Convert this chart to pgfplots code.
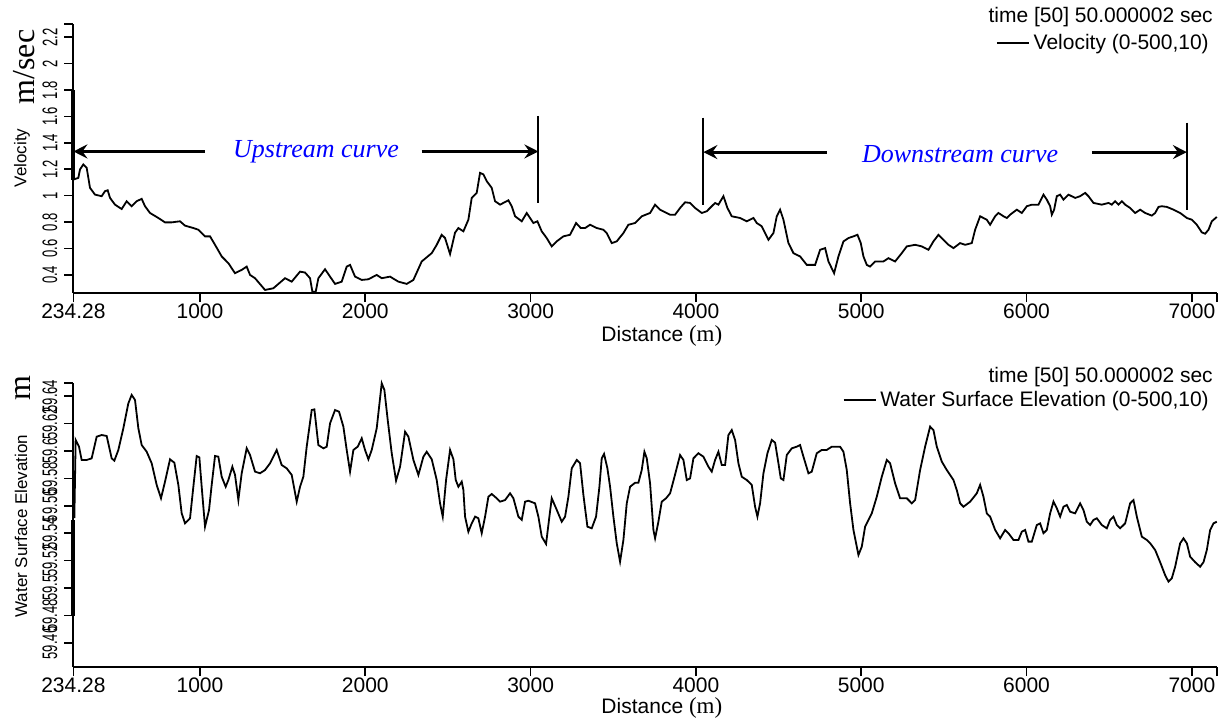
\documentclass[border=0pt]{standalone}
\usepackage{pgfplots}
\pgfplotsset{compat=1.18}
\usepackage{fontspec}
\setmainfont{Liberation Sans}
\newfontfamily\tnr{Liberation Serif}
\usetikzlibrary{arrows.meta}

\pgfplotsset{
  hecras/.style={
    scale only axis, width=571.7pt, xmin=234.28, xmax=7151,
    axis x line*=bottom, axis y line*=left,
    axis line style={-, line width=1pt},
    tick align=outside, major tick length=4.5pt,
    every tick/.style={black, line width=0.8pt},
    xtick={234.28,1000,2000,3000,4000,5000,6000,7000},
    xticklabels={234.28,1000,2000,3000,4000,5000,6000,7000},
    extra x ticks={7151}, extra x tick labels={},
    xticklabel style={font=\fontsize{10.5}{12}\selectfont, yshift=2.5pt},
    yticklabel style={rotate=90, xscale=0.62, anchor=south, font=\fontsize{10.5}{12}\selectfont},
    /pgf/number format/assume math mode=true,
    clip=false,
    legend style={draw=none, fill=none, font=\fontsize{10.5}{12}\selectfont, anchor=east, inner sep=0pt},
    legend image code/.code={\draw[#1, line width=0.7pt] (0pt,0pt) -- (16pt,0pt);},
  },
  curve/.style={black, line width=0.9pt, no marks},
}
\tikzset{marrow/.style={line width=1.6pt, -{Stealth[length=7pt, width=7pt, inset=2.5pt]}}}

\begin{document}
\begin{tikzpicture}
\path[use as bounding box] (0,0) rectangle (613pt,360pt);

% ---- velocity ----
\begin{axis}[hecras, at={(36.7pt,213.5pt)}, anchor=south west, height=134.5pt,
  ymin=0.263, ymax=2.3,
  ytick={0.4,0.6,0.8,1,1.2,1.4,1.6,1.8,2,2.2},
  yticklabels={0.4,0.6,0.8,1,1.2,1.4,1.6,1.8,2,2.2},
  extra y ticks={2.3}, extra y tick labels={},
  legend style={at={(axis description cs:0.9968,0.929)}},
]
\addplot[curve] coordinates {
(234.28,1.122) (264.2,1.135) (274.3,1.199) (294.4,1.237) (314.6,1.211) (334.8,1.059) (365,1.008) (405.3,0.996)
(425.5,1.034) (441.6,1.041) (455.8,0.983) (486,0.932) (526.3,0.899) (556.6,0.958) (586.8,0.920) (617.1,0.958)
(647.3,0.976) (667.5,0.920) (697.8,0.869) (748.2,0.831) (788.5,0.798) (828.8,0.798) (879.3,0.806) (909.5,0.773)
(959.9,0.755) (990.2,0.742) (1030.5,0.692) (1060.8,0.692) (1091,0.628) (1131.3,0.540) (1171.7,0.489) (1212,0.413)
(1252.4,0.438) (1282.6,0.463) (1302.8,0.400) (1333,0.375) (1393.5,0.286) (1444,0.299) (1514.5,0.375) (1554.9,0.349)
(1605.3,0.425) (1635.5,0.418) (1665.8,0.375) (1679.9,0.273) (1700,0.273) (1716.2,0.375) (1756.5,0.443) (1786.8,0.387)
(1817,0.332) (1857.4,0.349) (1887.6,0.463) (1907.8,0.476) (1938,0.387) (1978.4,0.362) (2018.7,0.367) (2069.1,0.400)
(2099.4,0.375) (2149.8,0.387) (2200.2,0.349) (2250.6,0.332) (2290.9,0.362) (2341.4,0.502) (2401.9,0.565) (2432.1,0.628)
(2462.4,0.704) (2482.5,0.679) (2512.8,0.558) (2543,0.72) (2563.1,0.755) (2593.4,0.730) (2623.6,0.818) (2643.8,0.983)
(2674,1.021) (2694.2,1.173) (2714.4,1.161) (2734.5,1.110) (2764.8,1.059) (2785,0.958) (2815.2,0.932) (2865.6,0.965)
(2885.8,0.920) (2906,0.844) (2946.3,0.806) (2976.5,0.869) (2996.7,0.831) (3016.9,0.793) (3041.1,0.806) (3067.3,0.730)
(3097.5,0.679) (3127.8,0.616) (3158,0.654) (3198.4,0.692) (3238.7,0.704) (3275,0.793) (3303.2,0.755) (3329.5,0.755)
(3359.7,0.780) (3400,0.755) (3440.4,0.742) (3460.5,0.717) (3490.8,0.641) (3521,0.654) (3561.4,0.717) (3591.6,0.780)
(3632,0.793) (3672.3,0.844) (3722.7,0.869) (3753,0.932) (3783.2,0.894) (3843.7,0.856) (3874,0.856) (3904.2,0.907)
(3934.5,0.950) (3964.7,0.945) (3995,0.907) (4035.3,0.869) (4065.6,0.882) (4095.8,0.920) (4116,0.945) (4136.1,0.932)
(4166.4,0.996) (4190.6,0.907) (4216.8,0.844) (4267.2,0.831) (4307.6,0.806) (4347.9,0.831) (4368,0.793) (4398.3,0.768)
(4438.6,0.666) (4468.9,0.717) (4489,0.844) (4509.2,0.894) (4529.4,0.818) (4559.6,0.641) (4589.9,0.565) (4630.2,0.540)
(4670.6,0.476) (4721,0.476) (4751.2,0.590) (4781.5,0.603) (4801.7,0.502) (4835.9,0.413) (4862.1,0.540) (4892.4,0.654)
(4922.6,0.679) (4952.9,0.692) (4977.1,0.704) (4997.2,0.641) (5013.4,0.540) (5033.5,0.476) (5053.7,0.463) (5084,0.502)
(5134.4,0.502) (5164.6,0.527) (5205,0.502) (5245.3,0.565) (5275.5,0.616) (5326,0.628) (5366.3,0.616) (5406.6,0.590)
(5436.9,0.654) (5467.1,0.704) (5497.4,0.666) (5527.6,0.628) (5557.9,0.603) (5598.2,0.641) (5628.5,0.628) (5668.8,0.641)
(5689,0.742) (5719.2,0.844) (5759.5,0.818) (5779.7,0.780) (5810,0.844) (5830.1,0.869) (5860.4,0.844) (5880.6,0.831)
(5900.7,0.856) (5941,0.894) (5971.3,0.869) (6001.6,0.920) (6031.8,0.932) (6072.1,0.932) (6102.4,1.008) (6122.6,0.970)
(6142.7,0.920) (6152.8,0.856) (6166.9,0.894) (6183,0.996) (6203.2,1.008) (6223.4,0.970) (6253.6,1.008) (6294,0.983)
(6324.2,0.996) (6354.5,1.021) (6374.6,0.996) (6404.9,0.945) (6455.3,0.932) (6495.6,0.945) (6515.8,0.932) (6536,0.958)
(6556.1,0.932) (6576.3,0.958) (6596.5,0.932) (6626.7,0.907) (6657,0.869) (6687.2,0.894) (6717.5,0.869) (6757.8,0.849)
(6778,0.869) (6798.2,0.915) (6818.3,0.920) (6848.6,0.915) (6888.9,0.894) (6929.2,0.869) (6969.6,0.831) (6999.8,0.818)
(7030,0.780) (7060.3,0.722) (7080.5,0.712) (7100.7,0.742) (7120.8,0.806) (7151,0.839)
};
\addlegendentry{{Velocity (0-500,10)}}
% reach markers
\draw[line width=2pt] (axis cs:234.28,1.12) -- (axis cs:234.28,1.80);
\draw[marrow] (axis cs:1030,1.335) -- (axis cs:234.28,1.335);
\node[blue, font=\tnr\itshape\fontsize{13}{15}\selectfont] at (axis cs:1702,1.335) {Upstream curve};
\draw[marrow] (axis cs:2341,1.335) -- (axis cs:3047,1.335);
\draw[line width=1pt] (axis cs:3047,1.604) -- (axis cs:3047,0.945);
\draw[line width=1pt] (axis cs:4045,1.592) -- (axis cs:4045,0.932);
\draw[marrow] (axis cs:4792,1.33) -- (axis cs:4045,1.33);
\node[blue, font=\tnr\itshape\fontsize{13}{15}\selectfont] at (axis cs:5598,1.315) {Downstream curve};
\draw[marrow] (axis cs:6395,1.33) -- (axis cs:6970,1.33);
\draw[line width=1pt] (axis cs:6970,1.554) -- (axis cs:6970,0.894);
% labels
\node[anchor=east, inner sep=0pt, font=\fontsize{10.5}{12}\selectfont] at (axis description cs:0.9968,1.026) {time [50] 50.000002 sec};
\node[anchor=base west, inner sep=0pt, font=\fontsize{10.5}{12}\selectfont] at (axis description cs:0.4615,-0.182) {Distance {\tnr\fontsize{11.5}{13}\selectfont (m)}};
\node[rotate=90, font=\fontsize{8.5}{10}\selectfont] at (axis description cs:-0.045,0.502) {Velocity};
\node[rotate=90, font=\tnr\fontsize{16}{18}\selectfont] at (axis description cs:-0.043,0.840) {m/sec};
\end{axis}

% ---- water surface elevation ----
\begin{axis}[hecras, at={(36.7pt,26.5pt)}, anchor=south west, height=142pt,
  ymin=59.4425, ymax=59.6495,
  ytick={59.46,59.48,59.5,59.52,59.54,59.56,59.58,59.6,59.62,59.64},
  yticklabels={59.46,59.48,59.5,59.52,59.54,59.56,59.58,59.6,59.62,59.64},
  extra y ticks={59.6495}, extra y tick labels={},
  legend style={at={(axis description cs:0.9968,0.940)}},
]
\addplot[curve] coordinates {
(240,59.551) (248,59.608) (268.2,59.6031) (284.3,59.5934) (314.6,59.5934) (344.8,59.5946) (375.1,59.6104) (405.3,59.6116)
(435.6,59.6109) (465.8,59.5946) (482,59.5929) (506.2,59.6007) (536.4,59.6165) (566.7,59.6347) (586.8,59.6408) (607,59.6371)
(627.2,59.6165) (647.3,59.6043) (677.6,59.5994) (707.8,59.591) (738.1,59.5752) (764.3,59.5655) (788.5,59.5776) (818.8,59.5939)
(845,59.5914) (869.2,59.5752) (889.3,59.5545) (909.5,59.5472) (939.8,59.5509) (959.9,59.5739) (980.1,59.5963) (996.2,59.5953)
(1010.3,59.5739) (1030.5,59.5448) (1054.7,59.5569) (1070.8,59.5752) (1091,59.5963) (1111.2,59.5958) (1131.3,59.5812) (1155.5,59.5739)
(1171.7,59.5788) (1195.9,59.5885) (1212,59.5825) (1232.2,59.5642) (1252.4,59.5837) (1282.6,59.6019) (1302.8,59.597) (1333,59.5849)
(1363.3,59.5837) (1393.5,59.5861) (1423.8,59.591) (1464.1,59.6007) (1494.4,59.5897) (1524.6,59.5873) (1554.9,59.5825) (1585.1,59.563)
(1605.3,59.5739) (1625.4,59.5812) (1645.6,59.6031) (1675.9,59.6298) (1692,59.6303) (1716.2,59.6043) (1746.4,59.6019) (1766.6,59.6031)
(1786.8,59.6201) (1817,59.6298) (1841.2,59.6286) (1867.4,59.6177) (1887.6,59.6007) (1907.8,59.5849) (1928,59.6007) (1954.2,59.6031)
(1978.4,59.6092) (1998.5,59.6007) (2018.7,59.5939) (2038.9,59.6007) (2069.1,59.6165) (2099.4,59.6493) (2115.5,59.6444) (2135.7,59.6225)
(2159.9,59.5983) (2186.1,59.5783) (2210.3,59.5885) (2240.6,59.614) (2260.7,59.6104) (2291,59.5934) (2321.2,59.5825) (2351.5,59.5958)
(2371.6,59.5994) (2401.9,59.5939) (2432.1,59.5788) (2452.3,59.5618) (2468.5,59.5521) (2488.6,59.5788) (2512.8,59.6007) (2533,59.5939)
(2547.1,59.5788) (2563.1,59.5739) (2583.3,59.5776) (2593.4,59.5715) (2603.5,59.5521) (2623.6,59.5411) (2643.8,59.5472) (2664,59.5521)
(2684.1,59.5509) (2704.3,59.54) (2724.5,59.5521) (2744.6,59.5666) (2764.8,59.5686) (2795,59.5655) (2815.2,59.563) (2845.5,59.5642)
(2875.7,59.5691) (2895.9,59.5655) (2926.1,59.5521) (2946.3,59.5497) (2966.5,59.563) (2986.6,59.5637) (3027,59.5618) (3047.1,59.5521)
(3067.3,59.5375) (3093.5,59.5322) (3113.7,59.5521) (3127.8,59.5655) (3154,59.5582) (3188.3,59.5484) (3208.5,59.5521) (3228.6,59.5666)
(3248.8,59.5873) (3279,59.5934) (3299.2,59.591) (3319.4,59.5679) (3343.6,59.5448) (3369.8,59.5436) (3396,59.5521) (3416.2,59.5739)
(3430.3,59.5946) (3444.4,59.5978) (3464.6,59.5873) (3480.7,59.5739) (3500.9,59.5521) (3521,59.5327) (3541.2,59.5193) (3561.4,59.5351)
(3581.6,59.5618) (3601.7,59.5739) (3632,59.5768) (3652.1,59.5768) (3672.3,59.5861) (3688.4,59.5994) (3702.6,59.5946) (3722.7,59.5764)
(3742.9,59.5424) (3753,59.5363) (3773.1,59.5484) (3793.3,59.563) (3819.5,59.5655) (3843.7,59.5691) (3867.9,59.58) (3904.2,59.597)
(3924.4,59.5934) (3944.6,59.5788) (3964.7,59.58) (3984.9,59.5946) (4015.1,59.5983) (4045.4,59.5958) (4075.6,59.5885) (4095.8,59.5849)
(4116,59.5934) (4136.1,59.5994) (4156.3,59.5897) (4176.5,59.5897) (4196.6,59.6116) (4216.8,59.6152) (4237,59.608) (4257.1,59.591)
(4277.3,59.5812) (4307.6,59.5788) (4337.8,59.5752) (4358,59.5593) (4372.1,59.5521) (4388.2,59.5618) (4408.4,59.5837) (4432.6,59.5983)
(4458.8,59.608) (4479,59.606) (4499.2,59.591) (4513.3,59.58) (4529.4,59.5788) (4549.6,59.597) (4579.8,59.6019) (4610.1,59.6031)
(4630.2,59.6043) (4650.4,59.5958) (4680.7,59.5837) (4700.8,59.5849) (4731,59.5983) (4761.3,59.6007) (4791.5,59.6007) (4821.8,59.6031)
(4852,59.6031) (4872.2,59.6031) (4892.4,59.5994) (4912.5,59.5861) (4932.7,59.5618) (4952.9,59.5424) (4983.1,59.5241) (5003.3,59.5302)
(5023.5,59.5448) (5063.8,59.5545) (5094,59.5666) (5124.3,59.5812) (5154.5,59.5934) (5174.7,59.591) (5205,59.5764) (5235.2,59.5655)
(5275.5,59.5655) (5305.8,59.5618) (5326,59.5642) (5356.2,59.5861) (5386.5,59.6031) (5416.7,59.6177) (5436.9,59.6152) (5457.1,59.6031)
(5487.3,59.5922) (5517.5,59.5861) (5557.9,59.5788) (5578,59.5715) (5598.2,59.5618) (5618.4,59.5593) (5658.7,59.563) (5699,59.5691)
(5719.2,59.5752) (5739.4,59.5666) (5759.5,59.5545) (5779.7,59.5521) (5810,59.5424) (5840.2,59.5363) (5870.5,59.5424) (5890.6,59.54)
(5920.9,59.5351) (5951.1,59.5351) (5971.3,59.5411) (5991.5,59.5424) (6011.6,59.5339) (6031.8,59.5339) (6062.1,59.546) (6082.2,59.5472)
(6102.4,59.54) (6122.6,59.5424) (6142.7,59.5545) (6162.9,59.563) (6183,59.5582) (6203.2,59.5521) (6223.4,59.5593) (6243.6,59.5606)
(6263.7,59.5557) (6294,59.5545) (6324.2,59.5618) (6344.4,59.5569) (6364.6,59.5484) (6384.7,59.546) (6404.9,59.5497) (6425,59.5509)
(6455.3,59.546) (6485.6,59.5436) (6505.7,59.5497) (6525.9,59.5521) (6546.1,59.546) (6566.2,59.5436) (6596.5,59.5472) (6626.7,59.5618)
(6646.9,59.5642) (6667.1,59.5521) (6697.3,59.5375) (6727.6,59.5351) (6747.7,59.5327) (6778,59.5278) (6808.2,59.5189) (6838.5,59.5094)
(6858.7,59.5047) (6878.8,59.5072) (6899,59.5156) (6929.2,59.5327) (6949.4,59.5363) (6969.6,59.5327) (6989.7,59.5229) (7020,59.5189)
(7050.2,59.5156) (7070.4,59.5189) (7090.6,59.5278) (7110.7,59.5424) (7130.9,59.5472) (7151,59.5484)
};
\addlegendentry{{Water Surface Elevation (0-500,10)}}
\draw[line width=2pt] (axis cs:234.28,59.48) -- (axis cs:234.28,59.55);
\node[anchor=east, inner sep=0pt, font=\fontsize{10.5}{12}\selectfont] at (axis description cs:0.9968,1.02) {time [50] 50.000002 sec};
\node[anchor=base west, inner sep=0pt, font=\fontsize{10.5}{12}\selectfont] at (axis description cs:0.4615,-0.165) {Distance {\tnr\fontsize{11.5}{13}\selectfont (m)}};
\node[rotate=90, font=\fontsize{8.5}{10}\selectfont] at (axis description cs:-0.0458,0.496) {Water Surface Elevation};
\node[rotate=90, font=\tnr\fontsize{16}{18}\selectfont] at (axis description cs:-0.044,0.982) {m};
\end{axis}
\end{tikzpicture}
\end{document}
